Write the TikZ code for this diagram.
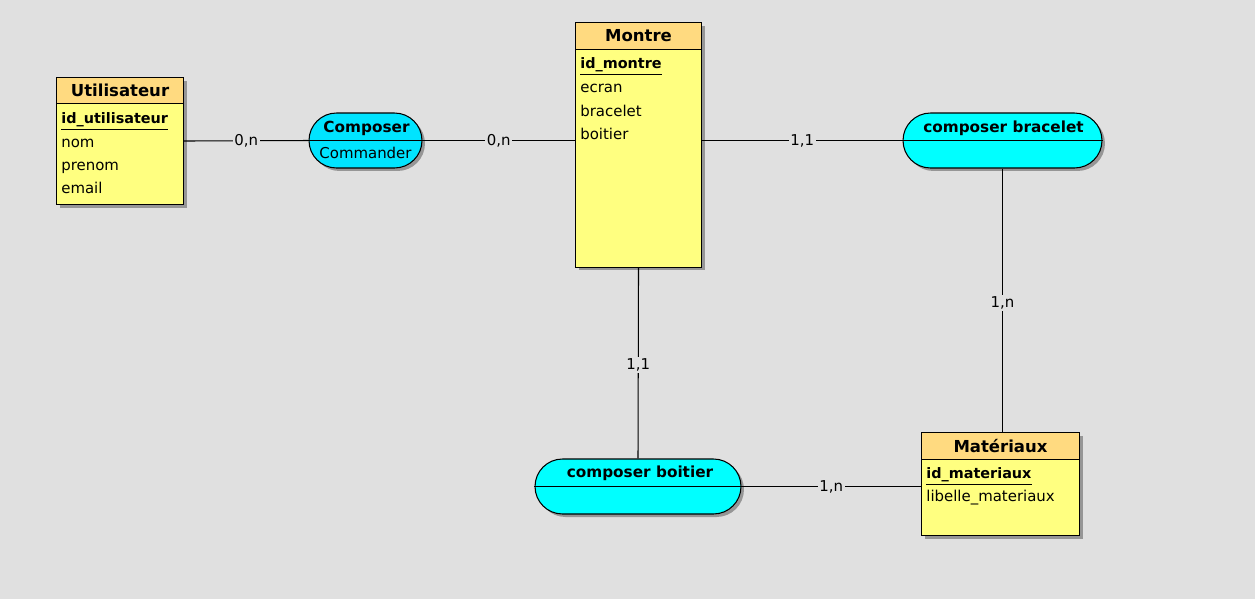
\documentclass[tikz,border=0pt]{standalone}
\usepackage{fontspec}
\setmainfont{DejaVu Sans}
\usetikzlibrary{positioning,shadows}
\definecolor{mcdbg}{RGB}{224,224,224}
\definecolor{entbody}{RGB}{255,255,128}
\definecolor{enthead}{RGB}{255,218,128}
\definecolor{assocfill}{RGB}{0,255,255}
\definecolor{assocblue}{RGB}{0,228,255}
\definecolor{shadowgray}{RGB}{150,150,150}

\tikzset{
  box shadow/.style={drop shadow={shadow xshift=0.06cm,shadow yshift=-0.06cm,fill=shadowgray,opacity=1}},
  entity/.style={draw=black, line width=0.6pt, fill=entbody, anchor=north west, inner sep=0pt, box shadow},
  enttitle/.style={draw=black, line width=0.6pt, fill=enthead, anchor=north west, inner sep=0pt, font=\fontsize{9.4}{11}\selectfont\bfseries},
  attr/.style={anchor=west, inner sep=0pt, text height=1.6ex, text depth=0.4ex, font=\fontsize{8.5}{10}\selectfont},
  assoc/.style={draw=black, line width=0.6pt, fill=assocfill, rounded corners=0.55cm, minimum height=1.1cm, inner sep=0pt, box shadow},
  assoctitle/.style={inner sep=0pt, text height=1.6ex, text depth=0.4ex, font=\fontsize{8.7}{10}\selectfont\bfseries},
  card/.style={fill=mcdbg, inner sep=1pt, font=\fontsize{8.5}{10}\selectfont},
  link/.style={draw=black, line width=0.6pt}
}

\begin{document}
\begin{tikzpicture}[x=0.02cm, y=-0.02cm]
% fond
\fill[mcdbg] (0,0) rectangle (1255,599);
\useasboundingbox (0,0) rectangle (1255,599);

% entites
\node[entity, minimum width=2.54cm, minimum height=2.54cm] (util) at (56,77) {};
\node[enttitle, minimum width=2.54cm, minimum height=0.52cm] (utilhead) at (56,77) {Utilisateur};
\node[attr, font=\fontsize{8.2}{10}\selectfont] (utilid) at (61,118) {\textbf{\underline{id\_utilisateur}}};
\node[attr] (utilnom) at (61,142) {nom};
\node[attr] (utilprenom) at (61,165) {prenom};
\node[attr] (utilemail) at (61,188) {email};

\node[entity, minimum width=2.52cm, minimum height=4.9cm] (montre) at (575,22) {};
\node[enttitle, minimum width=2.52cm, minimum height=0.54cm] (montrehead) at (575,22) {Montre};
\node[attr, font=\fontsize{8.2}{10}\selectfont] (montreid) at (580,63) {\textbf{\underline{id\_montre}}};
\node[attr] (montreecran) at (580,87) {ecran};
\node[attr] (montrebracelet) at (580,111) {bracelet};
\node[attr] (montreboitier) at (580,134) {boitier};

\node[entity, minimum width=3.16cm, minimum height=2.06cm] (mat) at (921,432) {};
\node[enttitle, minimum width=3.16cm, minimum height=0.54cm] (mathead) at (921,432) {Matériaux};
\node[attr, font=\fontsize{8.2}{10}\selectfont] (matid) at (926,473) {\textbf{\underline{id\_materiaux}}};
\node[attr] (matlib) at (926,496) {libelle\_materiaux};

% associations
\node[assoc, fill=assocblue, minimum width=2.26cm] (composer) at (365.5,140.5) {};
\draw[link] (composer.west) -- (composer.east);
\node[assoctitle] (composertitle) at (366.5,127) {Composer};
\node[attr, anchor=center] (composerdata) at (365.5,153) {Commander};

\node[assoc, minimum width=3.98cm] (bracelet) at (1002.5,140.5) {};
\draw[link] (bracelet.west) -- (bracelet.east);
\node[assoctitle] (bracelettitle) at (1003.5,127) {composer bracelet};

\node[assoc, minimum width=4.12cm] (boitier) at (638,486.5) {};
\draw[link] (boitier.west) -- (boitier.east);
\node[assoctitle] (boitiertitle) at (640,472) {composer boitier};

% liens
\draw[link] (util.east) -- node[card] {0,n} (composer.west);
\draw[link] (composer.east) -- node[card] {0,n} (composer.east -| montre.west);
\draw[link] (montre.east |- bracelet.west) -- node[card] {1,1} (bracelet.west);
\draw[link] (bracelet.south) -- node[card, pos=0.51] {1,n} (bracelet.south |- mat.north);
\draw[link] (montre.south) -- node[card, pos=0.51] {1,1} (boitier.north);
\draw[link] (boitier.east) -- node[card] {1,n} (boitier.east -| mat.west);
\end{tikzpicture}
\end{document}
